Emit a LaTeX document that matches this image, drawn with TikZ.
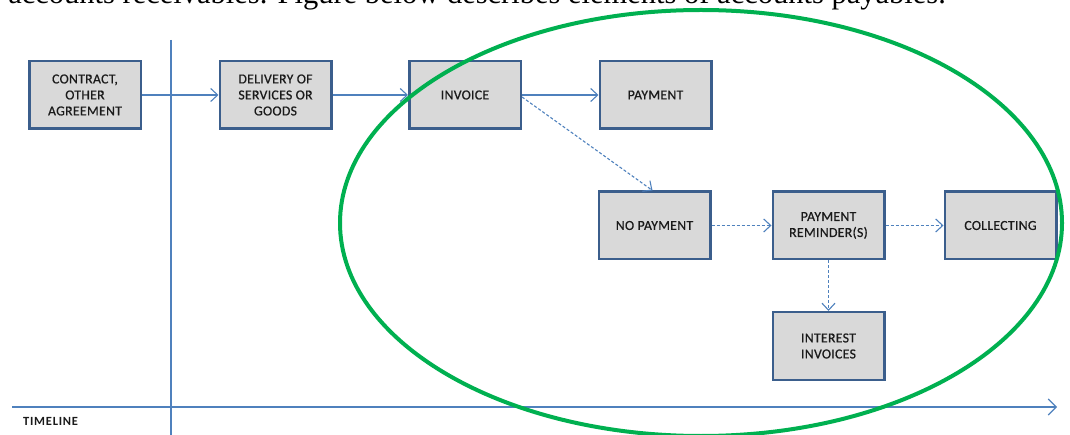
\documentclass[tikz,border=0pt]{standalone}
\usepackage{fontspec}
\setmainfont{Carlito}
\newfontfamily\bodyserif{Liberation Serif}
\usetikzlibrary{arrows.meta}

\definecolor{boxline}{HTML}{3B5E8C}
\definecolor{boxfill}{HTML}{D9D9D9}
\definecolor{flowline}{HTML}{4F81BD}
\definecolor{ringgreen}{HTML}{00B050}
\definecolor{labeltext}{HTML}{1A1A1A}

\tikzset{
  stepbox/.style={draw=boxline, line width=2.5pt, fill=boxfill,
    minimum width=111.5pt, minimum height=67.5pt, inner sep=2pt,
    align=center, text=labeltext,
    font=\fontsize{13.8}{16}\selectfont\addfontfeature{LetterSpace=2,FakeBold=0.6}},
  flow/.style={draw=flowline, line width=1.1pt,
    -{Straight Barb[length=7pt,width=13pt,line width=1.1pt]}},
  dashflow/.style={flow, dash pattern=on 3pt off 2pt},
  axis/.style={draw=flowline, line width=1.1pt},
}

\begin{document}
\begin{tikzpicture}[x=1pt,y=-1pt]
  \useasboundingbox (0,0) rectangle (1070,435);
  \clip (0,0) rectangle (1070,435);

  % running text above the figure
  \node[anchor=base east, inner sep=0pt, font=\bodyserif\fontsize{30.5}{34}\selectfont]
    (caption) at (946,4) {accounts receivables. Figure below describes elements of accounts payables.};

  % timeline axes
  \coordinate (vtop) at (171,40);
  \coordinate (vbot) at (171,440);
  \coordinate (tstart) at (12,407);
  \coordinate (tend) at (1057,407);
  \draw[axis] (vtop) -- (vbot);
  \draw[axis, -{Straight Barb[length=8pt,width=16pt,line width=1.1pt]}] (tstart) -- (tend);
  \node[anchor=west, inner sep=0pt, text=labeltext,
    font=\bfseries\fontsize{12.5}{14}\selectfont\addfontfeature{LetterSpace=6}]
    (timeline) at (23,421) {TIMELINE};

  % process steps
  \node[stepbox] (contract) at (85,95) {CONTRACT,\\OTHER\\AGREEMENT};
  \node[stepbox] (delivery) at (275.5,95) {DELIVERY OF\\SERVICES OR\\GOODS};
  \node[stepbox] (invoice) at (465,95) {INVOICE};
  \node[stepbox] (payment) at (655.5,95) {PAYMENT};
  \node[stepbox] (nopay) at (654.5,225.5) {NO PAYMENT};
  \node[stepbox] (reminder) at (828.5,225.5) {PAYMENT\\REMINDER(S)};
  \node[stepbox] (collect) at (1000.5,225.5) {COLLECTING};
  \node[stepbox] (interest) at (828.5,346) {INTEREST\\INVOICES};

  % connectors
  \draw[flow] (contract) -- (delivery);
  \draw[flow] (delivery) -- (invoice);
  \draw[flow] (invoice) -- (payment);
  \draw[dashflow] ([yshift=-2pt]invoice.east) -- ([xshift=-2pt]nopay.north);
  \draw[dashflow] (nopay) -- (reminder);
  \draw[dashflow] (reminder) -- (collect);
  \draw[dashflow] (reminder) -- (interest);

  % highlighted region
  \draw[ringgreen, line width=4pt] (701,223) ellipse [x radius=361, y radius=213];
\end{tikzpicture}
\end{document}
